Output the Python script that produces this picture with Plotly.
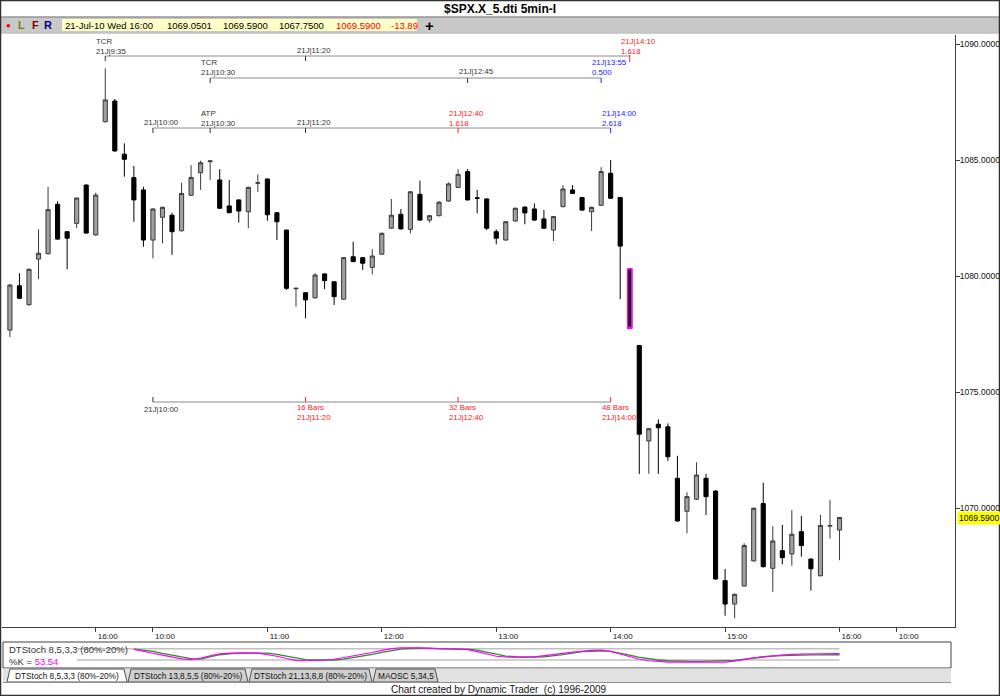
import plotly.graph_objects as go

# ---------------- data (5-min bars, 20-Jul 15:15 .. 21-Jul 16:00) ----------------
opens = [
    1077.67, 1079.58, 1078.76, 1080.73, 1080.96, 1083.09, 1081.91, 1082.27, 1083.92, 1081.77,
    1086.65, 1087.54, 1085.25, 1084.24, 1083.71, 1081.55, 1082.53, 1082.62, 1081.95, 1083.48,
    1084.45, 1084.93, 1084.14, 1083.02, 1083.28, 1082.77, 1084.00, 1084.18, 1082.73, 1081.98,
    1079.45, 1079.28, 1079.06, 1080.09, 1079.75, 1079.00, 1080.83, 1080.79, 1080.37, 1080.94,
    1082.06, 1082.66, 1082.01, 1083.52, 1082.41, 1082.60, 1083.23, 1083.82, 1084.50, 1083.37,
    1083.32, 1081.91, 1081.55, 1082.37, 1082.97, 1082.89, 1082.46, 1081.98, 1082.99, 1083.71,
    1083.38, 1082.77, 1083.05, 1084.43, 1083.38, 1080.30, 1077.00, 1072.89, 1073.61, 1073.50,
    1071.28, 1069.86, 1070.38, 1071.28, 1070.73, 1066.87, 1065.86, 1066.64, 1067.72, 1070.19,
    1067.40, 1068.16, 1068.02, 1068.98, 1067.80, 1067.08, 1069.22, 1069.05]
highs = [
    1079.65, 1080.12, 1080.32, 1082.01, 1083.84, 1083.22, 1081.94, 1083.38, 1083.95, 1083.59,
    1088.95, 1087.63, 1085.72, 1084.74, 1083.85, 1082.92, 1082.99, 1082.73, 1084.02, 1084.78,
    1084.97, 1084.98, 1084.60, 1084.14, 1083.30, 1083.85, 1084.38, 1084.21, 1082.76, 1082.00,
    1079.50, 1079.30, 1080.12, 1080.12, 1079.78, 1080.82, 1081.48, 1080.82, 1081.15, 1081.87,
    1083.32, 1082.89, 1083.66, 1084.11, 1082.63, 1083.23, 1084.04, 1084.60, 1084.61, 1083.71,
    1083.35, 1082.01, 1082.37, 1082.95, 1083.00, 1083.13, 1082.84, 1082.59, 1083.92, 1083.92,
    1083.41, 1082.99, 1084.69, 1085.00, 1083.41, 1080.30, 1077.03, 1073.45, 1073.82, 1073.65,
    1072.25, 1070.68, 1071.97, 1071.47, 1070.76, 1067.37, 1066.31, 1068.48, 1070.02, 1071.09,
    1069.22, 1069.27, 1069.91, 1069.66, 1067.83, 1069.70, 1070.34, 1069.59]
lows = [
    1077.37, 1079.00, 1078.72, 1079.86, 1080.93, 1081.56, 1080.29, 1082.06, 1081.82, 1081.74,
    1086.62, 1085.36, 1084.28, 1082.34, 1081.26, 1080.76, 1081.41, 1080.91, 1081.92, 1083.45,
    1083.71, 1084.14, 1082.90, 1082.70, 1082.30, 1082.06, 1083.63, 1082.38, 1081.55, 1079.40,
    1078.68, 1078.18, 1079.03, 1079.43, 1078.75, 1078.97, 1080.60, 1080.26, 1080.07, 1080.91,
    1082.03, 1082.00, 1081.84, 1082.38, 1082.30, 1082.57, 1083.20, 1083.79, 1083.25, 1082.70,
    1081.98, 1081.37, 1081.52, 1082.34, 1082.23, 1082.38, 1082.03, 1081.51, 1082.96, 1083.53,
    1082.81, 1081.94, 1083.02, 1083.32, 1079.00, 1077.75, 1071.47, 1071.47, 1071.47, 1072.03,
    1069.41, 1068.91, 1070.35, 1069.70, 1066.91, 1065.36, 1065.25, 1066.61, 1067.69, 1067.44,
    1066.39, 1067.57, 1067.51, 1067.90, 1066.44, 1067.05, 1068.69, 1067.75]
closes = [
    1079.61, 1079.04, 1080.29, 1080.98, 1082.86, 1081.59, 1081.63, 1083.36, 1081.85, 1083.49,
    1087.59, 1085.39, 1085.03, 1083.28, 1081.55, 1082.89, 1082.96, 1081.91, 1083.56, 1084.25,
    1084.88, 1084.96, 1082.92, 1082.73, 1082.80, 1083.82, 1084.02, 1082.64, 1082.34, 1079.47,
    1079.47, 1078.97, 1080.04, 1079.80, 1079.11, 1080.79, 1080.62, 1080.55, 1080.86, 1081.84,
    1082.62, 1082.03, 1083.63, 1082.41, 1082.60, 1083.18, 1083.97, 1084.38, 1083.28, 1083.35,
    1082.06, 1081.63, 1082.34, 1082.92, 1082.72, 1082.41, 1082.06, 1082.56, 1083.75, 1083.56,
    1082.84, 1082.96, 1084.50, 1083.35, 1081.29, 1077.75, 1073.18, 1073.42, 1073.46, 1072.21,
    1069.44, 1070.49, 1071.42, 1070.49, 1066.94, 1065.86, 1066.28, 1068.38, 1069.99, 1067.47,
    1068.58, 1067.86, 1068.87, 1068.38, 1067.38, 1069.25, 1069.24, 1069.59]
FIRST_BAR = -10            # bar index of the first bar (9:35 on 21-Jul is index 0)
HILITE_BAR = "14:10"       # bar outlined in magenta

# DTStoch 8,5,3,3 values, bars 3..77
stoch_first = 3
stoch_d = [78, 72, 66, 55, 47, 36, 27, 25, 36, 48,
           53, 57, 57, 57, 56, 50, 40, 30, 22, 20,
           20, 20, 25, 32, 40, 50, 60, 70, 78, 81,
           83, 83, 80, 79, 78, 78, 72, 62, 48, 41,
           38, 36, 36, 37, 42, 48, 56, 64, 66, 68,
           66, 58, 46, 34, 26, 20, 16, 14, 13, 13,
           14, 14, 14, 18, 24, 31, 36, 41, 44, 46,
           47, 47, 47, 47, 48]
stoch_k = [76, 64, 56, 46, 36, 26, 22, 30, 42, 52,
           56, 58, 58, 56, 50, 40, 28, 18, 16, 17,
           20, 24, 32, 41, 50, 60, 71, 80, 84, 85,
           84, 82, 80, 80, 79, 75, 64, 50, 40, 36,
           34, 34, 37, 42, 48, 55, 62, 68, 71, 72,
           66, 52, 36, 24, 16, 12, 9, 9, 9, 10,
           12, 11, 9, 14, 24, 32, 38, 43, 47, 50,
           51, 51, 52, 53, 53.54]
stoch_levels = [80, 20]

# x-axis tick labels
tick_bars = [-1, 5, 17, 29, 41, 53, 65, 77, 83]
tick_text = ["16:00", "10:00", "11:00", "12:00", "13:00", "14:00", "15:00", "16:00", "10:00"]
price_ticks = [1070, 1075, 1080, 1085, 1090]
last_price = 1069.59

header_vals = ["21-Jul-10 Wed 16:00", "1069.0501", "1069.5900", "1067.7500", "1069.5900", "-13.89"]
tabs = ["DTStoch 8,5,3,3 (80%-20%)", "DTStoch 13,8,5,5 (80%-20%)",
        "DTStoch 21,13,8,8 (80%-20%)", "MAOSC 5,34,5"]

# ---------------- helpers ----------------
W, H = 1000, 696
def X(px): return px / W
def Y(py): return 1 - py / H
def bi(t):
    h, m = map(int, t.split(":"))
    return (h * 60 + m - (9 * 60 + 35)) / 5

FONT = "Liberation Sans, Arial, sans-serif"
bars = list(range(FIRST_BAR, FIRST_BAR + len(opens)))
hb = int(bi(HILITE_BAR)) - FIRST_BAR

fig = go.Figure()
fig.add_trace(go.Candlestick(
    x=bars, open=opens, high=highs, low=lows, close=closes,
    increasing=dict(fillcolor="#a0a0a0", line=dict(color="#3a3a3a", width=1)),
    decreasing=dict(fillcolor="#000000", line=dict(color="#000000", width=1)),
    whiskerwidth=0, showlegend=False, hoverinfo="skip"))
fig.add_trace(go.Candlestick(
    x=[bars[hb]], open=[opens[hb]], high=[highs[hb]], low=[lows[hb]], close=[closes[hb]],
    increasing=dict(fillcolor="#000000", line=dict(color="#ff00ff", width=1.5)),
    decreasing=dict(fillcolor="#000000", line=dict(color="#ff00ff", width=1.5)),
    whiskerwidth=0, showlegend=False, hoverinfo="skip"))

sx = list(range(stoch_first, stoch_first + len(stoch_d)))
fig.add_trace(go.Scatter(x=sx, y=stoch_d, mode="lines", line=dict(color="#2e8b2e", width=1.3),
                         xaxis="x2", yaxis="y2", showlegend=False, hoverinfo="skip"))
fig.add_trace(go.Scatter(x=sx, y=stoch_k, mode="lines", line=dict(color="#ff00ff", width=1.2),
                         xaxis="x2", yaxis="y2", showlegend=False, hoverinfo="skip"))

shapes = []
ann = []

def line_px(x0, y0, x1, y1, color="#808080", width=1):
    shapes.append(dict(type="line", xref="paper", yref="paper", x0=X(x0), y0=Y(y0), x1=X(x1), y1=Y(y1),
                       line=dict(color=color, width=width)))

def rect_px(x0, y0, x1, y1, fill=None, color=None, width=1, layer="below"):
    shapes.append(dict(type="rect", xref="paper", yref="paper", x0=X(x0), y0=Y(y0), x1=X(x1), y1=Y(y1),
                       fillcolor=fill if fill else "rgba(0,0,0,0)",
                       line=dict(color=color if color else "rgba(0,0,0,0)", width=width), layer=layer))

def text_px(x, y, s, size=10, color="#000", anchor="left", bold=False, family=FONT):
    ann.append(dict(xref="paper", yref="paper", x=X(x), y=Y(y), text=f"<b>{s}</b>" if bold else s,
                    showarrow=False, xanchor=anchor, yanchor="middle",
                    font=dict(size=size, color=color, family=family), borderpad=0))

def text_bar(b, y, s, color="#333", size=7.8):
    ann.append(dict(xref="x", yref="paper", x=b, y=Y(y), text=s, showarrow=False,
                    xanchor="left", yanchor="middle", xshift=-10, align="left",
                    font=dict(size=size, color=color, family=FONT), borderpad=0))

def hseg(b0, b1, y, color="#8a8a8a"):
    shapes.append(dict(type="line", xref="x", yref="paper", x0=b0, x1=b1, y0=Y(y), y1=Y(y),
                       line=dict(color=color, width=1)))

def vtick(b, y0, y1, color="#555"):
    shapes.append(dict(type="line", xref="x", yref="paper", x0=b, x1=b, y0=Y(y0), y1=Y(y1),
                       line=dict(color=color, width=1)))

RED, BLUE, DARK = "#ff2020", "#2020ff", "#333333"

# --- TCR 9:35 -> 14:10
hseg(bi("9:35"), bi("14:10"), 56)
vtick(bi("9:35"), 56, 61, DARK); vtick(bi("11:20"), 56, 61, DARK); vtick(bi("14:10"), 55, 62, RED)
text_bar(bi("9:35"), 46.5, "TCR<br>21J|9:35")
text_bar(bi("11:20"), 50.5, "21J|11:20")
text_bar(bi("14:10"), 46.5, "21J|14:10<br>1.618", RED)
# --- TCR 10:30 -> 13:55
hseg(bi("10:30"), bi("13:55"), 78)
vtick(bi("10:30"), 78, 83, DARK); vtick(bi("12:45"), 78, 83, DARK); vtick(bi("13:55"), 78, 83, BLUE)
text_bar(bi("10:30"), 67.5, "TCR<br>21J|10:30")
text_bar(bi("12:45"), 71.5, "21J|12:45")
text_bar(bi("13:55"), 67.5, "21J|13:55<br>0.500", BLUE)
# --- ATP 10:00 -> 14:00
hseg(bi("10:00"), bi("14:00"), 128)
vtick(bi("10:00"), 128, 133, DARK); vtick(bi("10:30"), 128, 133, DARK); vtick(bi("11:20"), 128, 133, DARK)
vtick(bi("12:40"), 128, 133, RED); vtick(bi("14:00"), 128, 133, BLUE)
text_bar(bi("10:00"), 122, "21J|10:00")
text_bar(bi("10:30"), 118.5, "ATP<br>21J|10:30")
text_bar(bi("11:20"), 122, "21J|11:20")
text_bar(bi("12:40"), 118.5, "21J|12:40<br>1.618", RED)
text_bar(bi("14:00"), 118.5, "21J|14:00<br>2.618", BLUE)
# --- bar count 10:00 -> 14:00
hseg(bi("10:00"), bi("14:00"), 402)
vtick(bi("10:00"), 397, 402, DARK)
for t in ["11:20", "12:40", "14:00"]:
    vtick(bi(t), 397, 402, RED)
text_bar(bi("10:00"), 409, "21J|10:00")
for t, n in [("11:20", "16 Bars"), ("12:40", "32 Bars"), ("14:00", "48 Bars")]:
    text_bar(bi(t), 413, n + "<br>21J|" + t, RED)

# stoch 80/20 levels
for lv in stoch_levels:
    shapes.append(dict(type="line", xref="x2", yref="y2", x0=-3, x1=77, y0=lv, y1=lv,
                       line=dict(color="#c0c0c0", width=1.5), layer="below"))

# --- chrome: title bar, toolbar
line_px(0, 17, 1000, 17, "#606060", 1)
rect_px(0, 17.5, 1000, 32.5, fill="#c8c8c8")
line_px(0, 33, 1000, 33, "#a0a0a0", 1)
rect_px(62, 19, 417, 31, fill="#ffffc8")
text_px(500, 9, "$SPX.X_5.dti 5min-I", size=12, bold=True, anchor="center")
text_px(5, 25, "●", size=8, color="#ff0000")
text_px(17, 25, "L", size=11, color="#808000", bold=True)
text_px(31, 25, "F", size=11, color="#800000", bold=True)
text_px(43, 25, "R", size=11, color="#000080", bold=True)
hx = [64, 166, 222, 278, 335, 390]
for i, (x, s) in enumerate(zip(hx, header_vals)):
    text_px(x, 25, s, size=9.5, color="#ff0000" if i >= 4 else "#000")
text_px(424, 25, "+", size=15, bold=True)

# yellow last price label
ann.append(dict(xref="paper", yref="y", x=X(957), y=last_price, text=f"{last_price:.4f}",
                showarrow=False, xanchor="left", yanchor="middle", bgcolor="#ffff00",
                font=dict(size=8.5, color="#000", family=FONT), borderpad=1))

# --- stoch panel
rect_px(3, 642, 951, 668, color="#404040", width=1)
text_px(8, 649.5, "DTStoch 8,5,3,3 (80%-20%)", size=9.5, color="#333")
text_px(8, 661, "%K = <span style='color:#ff00ff'>53.54</span>", size=9.5, color="#333")

# --- tab strip
rect_px(3, 668.5, 951, 682, fill="#e2e2e2")
tx = [(7, 127), (128, 248), (249, 372), (373, 438)]
for i, ((a, b), s) in enumerate(zip(tx, tabs)):
    path = f"M {X(a)},{Y(682)} L {X(a+3)},{Y(669)} L {X(b-3)},{Y(669)} L {X(b)},{Y(682)} Z"
    shapes.append(dict(type="path", xref="paper", yref="paper", path=path,
                       fillcolor="#ffffff" if i == 0 else "#cfcfcf",
                       line=dict(color="#505050", width=1)))
    text_px((a + b) / 2, 675.5, s, size=8.3, color="#111", anchor="center")
line_px(3, 682.5, 951, 682.5, "#909090", 1)
text_px(499, 689, "Chart created by Dynamic Trader  (c) 1996-2009", size=10, color="#111", anchor="center")

# outer frame
rect_px(0.5, 0.5, 999.5, 695.5, color="#303030", width=1.5, layer="above")

fig.update_layout(
    width=W, height=H, margin=dict(l=0, r=0, t=0, b=0, autoexpand=False),
    paper_bgcolor="#ffffff", plot_bgcolor="#ffffff",
    showlegend=False, boxgap=0.38, dragmode=False,
    shapes=shapes, annotations=ann,
    font=dict(family=FONT, size=10, color="#000"),
    xaxis=dict(domain=[X(2), X(955)], range=[-10.83, 89.11], anchor="y", automargin=False,
               tickvals=tick_bars, ticktext=tick_text, ticks="outside", ticklen=4,
               tickcolor="#404040", showline=True, linecolor="#404040", linewidth=1,
               showgrid=False, zeroline=False, rangeslider=dict(visible=False),
               tickfont=dict(size=8, family=FONT, color="#111"), ticklabelshift=12,
               ticklabelstandoff=-3),
    yaxis=dict(domain=[Y(627), Y(35)], range=[1064.871, 1090.388], side="right", anchor="x",
               automargin=False,
               tickvals=price_ticks, tickformat=".4f", ticks="outside", ticklen=4,
               tickcolor="#404040", showline=True, linecolor="#404040", linewidth=1,
               showgrid=False, zeroline=False,
               tickfont=dict(size=8.5, family=FONT, color="#111"), ticklabelstandoff=-2),
    xaxis2=dict(domain=[X(2), X(955)], range=[-10.83, 89.11], anchor="y2", visible=False),
    yaxis2=dict(domain=[Y(668), Y(642)], range=[-22.5, 115.6], anchor="x2", visible=False),
)

fig.write_html("out.html", config={"displayModeBar": False, "staticPlot": True},
               post_script="document.body.style.margin='0';document.body.style.overflow='hidden';")
